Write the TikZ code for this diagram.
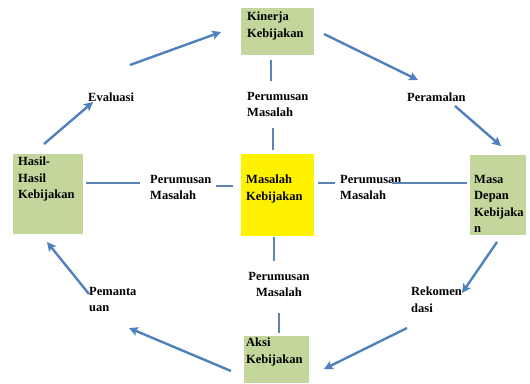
\documentclass[tikz,border=0pt]{standalone}
\usepackage{fontspec}
\setmainfont{Liberation Serif}
\usetikzlibrary{arrows.meta}
\definecolor{boxgreen}{HTML}{C3D69B}
\definecolor{arrowblue}{HTML}{4F81BD}
\definecolor{linkblue}{HTML}{5A85B5}
\definecolor{txtcol}{HTML}{000000}
\begin{document}
\begin{tikzpicture}[x=1pt,y=-1pt,
  gbox/.style={fill=boxgreen, draw=none, inner sep=0pt},
  ybox/.style={fill=yellow, draw=none, inner sep=0pt},
  lbl/.style={anchor=north west, inner sep=0pt, align=left, font=\fontsize{12.5}{16.5}\selectfont\bfseries, text=txtcol},
  clbl/.style={anchor=north, inner sep=0pt, align=center, font=\fontsize{12.5}{16.5}\selectfont\bfseries, text=txtcol},
  flow/.style={draw=arrowblue, line width=2.4pt, -{Stealth[length=9pt,width=9pt,inset=2pt]}},
  link/.style={draw=linkblue, line width=2pt}]
\useasboundingbox[fill=white] (0,0) rectangle (530,383);

% boxes
\node[gbox, minimum width=73pt, minimum height=47pt] (kin) at (277,31.5) {};
\node[ybox, minimum width=73pt, minimum height=82pt] (mas) at (277,195) {};
\node[gbox, minimum width=70pt, minimum height=80pt] (has) at (48,194) {};
\node[gbox, minimum width=56pt, minimum height=80pt] (mdp) at (498,195) {};
\node[gbox, minimum width=65pt, minimum height=47pt] (aks) at (276,359.5) {};

% box texts
\node[lbl] (tkin) at (247,12) {Kinerja\\Kebijakan};
\node[lbl] (tmas) at (246,175) {Masalah\\Kebijakan};
\node[lbl] (thas) at (18,157) {Hasil-\\Hasil\\Kebijakan};
\node[lbl] (tmdp) at (474,175) {Masa\\Depan\\Kebijaka\\n};
\node[lbl] (taks) at (246,338) {Aksi\\Kebijakan};

% stage labels
\node[lbl] (eva) at (88,92.5) {Evaluasi};
\node[lbl] (per) at (407,92.5) {Peramalan};
\node[lbl] (pem) at (89,287) {Pemanta\\uan};
\node[lbl] (rek) at (411,287) {Rekomen\\dasi};

% perumusan masalah labels
\node[lbl] (pmt) at (247,92) {Perumusan\\Masalah};
\node[clbl] (pmb) at (279,272) {Perumusan\\Masalah};
\node[lbl] (pml) at (150,175) {Perumusan\\Masalah};
\node[lbl] (pmr) at (340,175) {Perumusan\\Masalah};

% link endpoints
\coordinate (t1) at (271,60); \coordinate (t2) at (271,81);
\coordinate (t3) at (273,128); \coordinate (t4) at (273,150);
\coordinate (b1) at (274,237); \coordinate (b2) at (274,261);
\coordinate (b3) at (279,313); \coordinate (b4) at (279,333);
\coordinate (l1) at (86,183); \coordinate (l2) at (140,183);
\coordinate (l3) at (216,185.5); \coordinate (l4) at (233,185.5);
\coordinate (r1) at (318,183); \coordinate (r2) at (335,183);
\coordinate (r3) at (392,183); \coordinate (r4) at (467,183);

\draw[link] (t1) -- (t2);
\draw[link] (t3) -- (t4);
\draw[link] (b1) -- (b2);
\draw[link] (b3) -- (b4);
\draw[link] (l1) -- (l2);
\draw[link] (l3) -- (l4);
\draw[link] (r1) -- (r2);
\draw[link] (r3) -- (r4);

% arrow endpoints
\coordinate (e1) at (130,65);  \coordinate (f1) at (221,32);
\coordinate (e2) at (324,34);  \coordinate (f2) at (418,80);
\coordinate (e3) at (455,106); \coordinate (f3) at (501,146);
\coordinate (e4) at (497,242); \coordinate (f4) at (462,293);
\coordinate (e5) at (407,328); \coordinate (f5) at (324,369);
\coordinate (e6) at (231,371); \coordinate (f6) at (129,328);
\coordinate (e7) at (89,294);  \coordinate (f7) at (47,242);
\coordinate (e8) at (44,144);  \coordinate (f8) at (93,102);

\draw[flow] (e1) -- (f1);
\draw[flow] (e2) -- (f2);
\draw[flow] (e3) -- (f3);
\draw[flow] (e4) -- (f4);
\draw[flow] (e5) -- (f5);
\draw[flow] (e6) -- (f6);
\draw[flow] (e7) -- (f7);
\draw[flow] (e8) -- (f8);
\end{tikzpicture}
\end{document}
